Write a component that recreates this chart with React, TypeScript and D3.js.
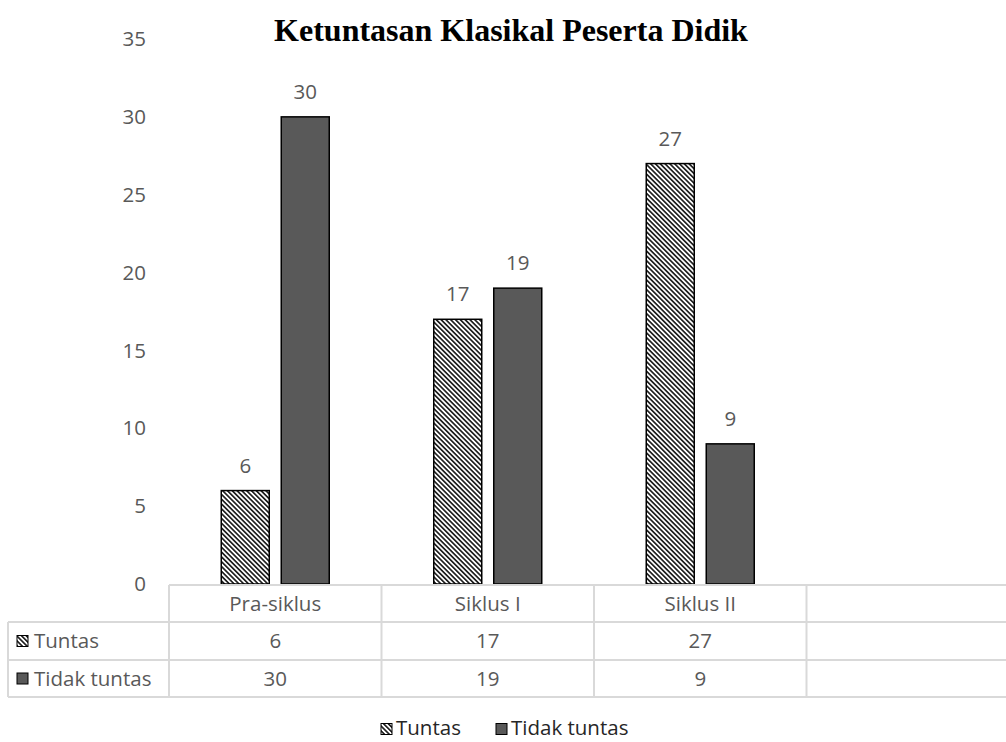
import React from "react";
import * as d3 from "d3";

const categories = ["Pra-siklus", "Siklus I", "Siklus II", ""];
const seriesNames = ["Tuntas", "Tidak tuntas"];
const tuntas = [6, 17, 27];
const tidakTuntas = [30, 19, 9];
const yTicks = [0, 5, 10, 15, 20, 25, 30, 35];

const W = 1006;
const H = 742;
const FONT = "'Open Sans', 'Noto Sans', sans-serif";
const FS = 20.5;
const TXT = "#595959";
const GRID = "#d9d9d9";

export default function App() {
  const y = d3.scaleLinear().domain([0, 35]).range([584, 39]);
  const x0 = d3.scaleBand<string>().domain(categories).range([169, 1019]).padding(0);
  const x1 = d3.scaleBand<string>().domain(seriesNames).range([0, 108]).paddingInner(0.2).paddingOuter(0);
  const values = [tuntas, tidakTuntas];
  const fills = ["url(#hatch)", "#595959"];

  const rowTop = 585, r1 = 622, r2 = 660, r3 = 697;
  const tableLeft = 8;

  const colEdges = categories.map((c) => x0(c)!);

  const key = (i: number, kx: number, ky: number) => (
    <rect x={kx} y={ky} width={11} height={11} fill={fills[i]} stroke="#000" strokeWidth={1} />
  );

  return (
    <svg width={W} height={H} style={{ display: "block", position: "absolute", left: 0, top: 0 }}>
      <defs>
        <pattern id="hatch" patternUnits="userSpaceOnUse" width={3.4} height={3.4} patternTransform="rotate(-45)">
          <rect x={0} y={0} width={3.4} height={3.4} fill="#fff" />
          <rect x={0} y={0} width={1.7} height={3.4} fill="#222" />
        </pattern>
      </defs>
      <rect width={W} height={H} fill="#fff" />
      <text x={511} y={41} textAnchor="middle" fontFamily="'Liberation Serif', 'Times New Roman', serif" fontWeight="bold" fontSize={32} fill="#000">
        Ketuntasan Klasikal Peserta Didik
      </text>

      {yTicks.map((t) => (
        <text key={t} x={146} y={y(t)} dy="0.35em" textAnchor="end" fontFamily={FONT} fontSize={FS} fill={TXT}>
          {t}
        </text>
      ))}

      {values.map((vals, si) =>
        vals.map((v, ci) => {
          const bx = x0(categories[ci])! + x0.bandwidth() / 2 - 54 + x1(seriesNames[si])!;
          const bw = x1.bandwidth();
          return (
            <g key={`${si}-${ci}`}>
              <rect x={bx} y={y(v)} width={bw} height={y(0) - y(v)} fill={fills[si]} stroke="#000" strokeWidth={1.5} />
              <text x={bx + bw / 2} y={y(v) - 18} textAnchor="middle" fontFamily={FONT} fontSize={FS} fill={TXT}>
                {v}
              </text>
            </g>
          );
        })
      )}

      {/* data table */}
      <g stroke={GRID} strokeWidth={2} fill="none">
        <line x1={colEdges[0]} x2={W} y1={rowTop} y2={rowTop} />
        <line x1={tableLeft} x2={W} y1={r1} y2={r1} />
        <line x1={tableLeft} x2={W} y1={r2} y2={r2} />
        <line x1={tableLeft} x2={W} y1={r3} y2={r3} />
        <line x1={tableLeft} x2={tableLeft} y1={r1} y2={r3} />
        {colEdges.map((cx, i) => (
          <line key={i} x1={cx} x2={cx} y1={rowTop} y2={r3} />
        ))}
      </g>
      {categories.map((c) => (
        <text key={c} x={x0(c)! + x0.bandwidth() / 2} y={(rowTop + r1) / 2} dy="0.35em" textAnchor="middle" fontFamily={FONT} fontSize={FS} fill={TXT}>
          {c}
        </text>
      ))}
      {values.map((vals, si) => {
        const ry = si === 0 ? (r1 + r2) / 2 : (r2 + r3) / 2;
        return (
          <g key={si}>
            {key(si, 17, ry - 5.5)}
            <text x={34} y={ry} dy="0.35em" fontFamily={FONT} fontSize={FS} fill={TXT}>
              {seriesNames[si]}
            </text>
            {vals.map((v, ci) => (
              <text key={ci} x={x0(categories[ci])! + x0.bandwidth() / 2} y={ry} dy="0.35em" textAnchor="middle" fontFamily={FONT} fontSize={FS} fill={TXT}>
                {v}
              </text>
            ))}
          </g>
        );
      })}

      {/* legend */}
      {key(0, 381, 723.5)}
      <text x={396} y={735} fontFamily={FONT} fontSize={FS} fill="#262626">Tuntas</text>
      {key(1, 496, 723.5)}
      <text x={511} y={735} fontFamily={FONT} fontSize={FS} fill="#262626">Tidak tuntas</text>
    </svg>
  );
}
